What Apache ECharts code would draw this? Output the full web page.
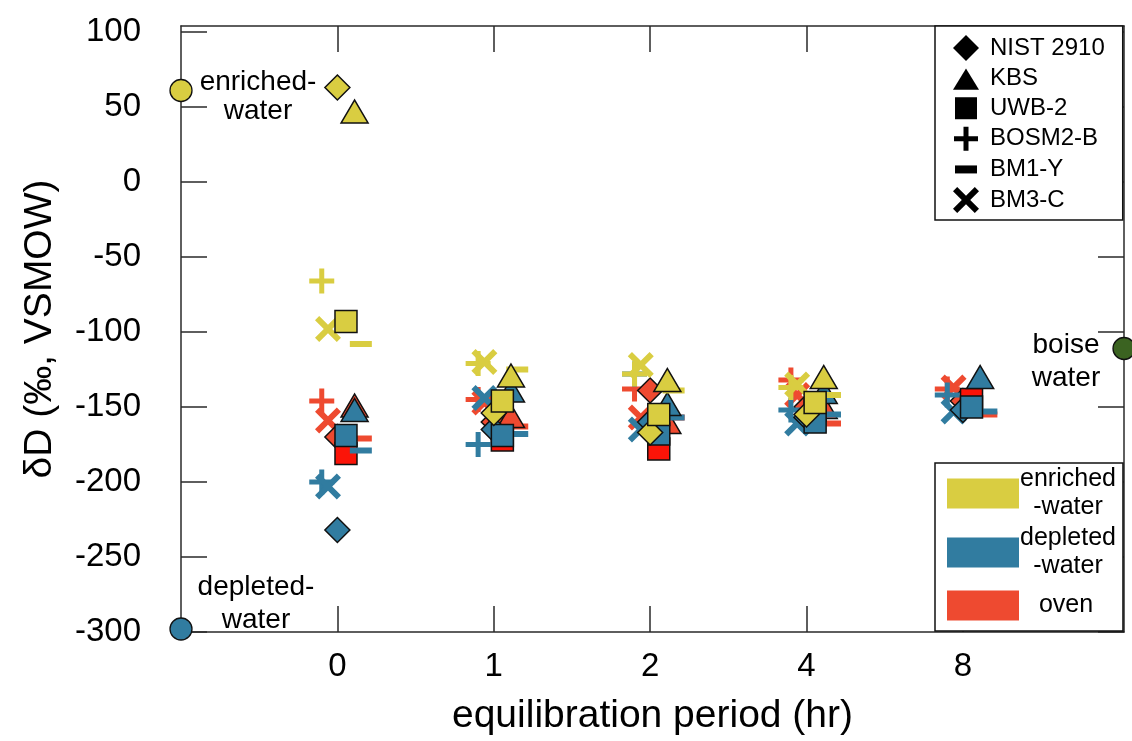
<!DOCTYPE html>
<html><head><meta charset="utf-8">
<script src="https://cdn.jsdelivr.net/npm/echarts@6/dist/echarts.min.js"></script>
<style>html,body{margin:0;padding:0;background:#fff}#c{width:1132px;height:741px}</style>
</head><body><div id="c"></div>
<script>
// ---------- data ----------
const categories = ['0', '1', '2', '4', '8'];           // equilibration period (hr)
const yTickValues = [-300, -250, -200, -150, -100, -50, 0, 50, 100];
const standards = ['NIST 2910', 'KBS', 'UWB-2', 'BOSM2-B', 'BM1-Y', 'BM3-C'];
const treatments = ['enriched-water', 'depleted-water', 'oven'];

// enriched-water treatment
const enrichedNIST2910 = [63, -154, -167, -155, null];
const enrichedKBS      = [47, -129, -132, -130, null];
const enrichedUWB2     = [-93, -146, -155, -147, null];
const enrichedBOSM2B   = [-66, -121, -128, -137, null];
const enrichedBM1Y     = [-108, -125, -139, -142, null];
const enrichedBM3C     = [-98, -120, -122, -135, null];
// depleted-water treatment
const depletedNIST2910 = [-232, -165, -160, -157, -152];
const depletedKBS      = [-152, -139, -148, -140, -130];
const depletedUWB2     = [-169, -169, -168, -160, -150];
const depletedBOSM2B   = [-200, -175, -128, -152, -142];
const depletedBM1Y     = [-179, -168, -157, -155, -153];
const depletedBM3C     = [-203, -144, -165, -161, -153];
// oven treatment
const ovenNIST2910 = [-170, -160, -139, -150, -146];
const ovenKBS      = [-149, -156, -160, -150, null];
const ovenUWB2     = [-181, -172, -178, -152, -145];
const ovenBOSM2B   = [-146, -145, -138, -132, -138];
const ovenBM1Y     = [-171, -163, -157, -161, -155];
const ovenBM3C     = [-159, -147, -157, -142, -137];

// reference waters (δD)
const enrichedWaterRef = 61;
const depletedWaterRef = -298;
const boiseWaterRef = -111;

// ---------- styling ----------
const X_MIN = -1, X_MAX = 5.03;
const FONT = "'Liberation Sans', Arial, Helvetica, sans-serif";
const COLORS = {'enriched-water': '#d9cd41', 'depleted-water': '#317ca0', 'oven': '#ee4a30'};
const SQUARE_RED = '#fb1408';
const PLUS = 'path://M10,0H15V10H25V15H15V25H10V15H0V10H10Z';
const d = 4.2;
const CROSS = `path://M0,${d}L${d},0L13,${13-d}L${26-d},0L26,${d}L${13+d},13L26,${26-d}L${26-d},26L13,${13+d}L${d},26L0,${26-d}L${13-d},13Z`;
const SHAPES = {
  'NIST 2910': {symbol: 'diamond', size: 25, border: true, off: 0},
  'KBS':       {symbol: 'triangle', size: [27, 23], border: true, off: 0.11},
  'UWB-2':     {symbol: 'rect', size: 22, border: true, off: 0.055},
  'BOSM2-B':   {symbol: PLUS, size: 25, border: false, off: -0.1},
  'BM1-Y':     {symbol: 'rect', size: [22, 6], border: false, off: 0.15},
  'BM3-C':     {symbol: CROSS, size: 26, border: false, off: -0.06}
};
const LEGEND_ICONS = {
  'NIST 2910': 'diamond',
  'KBS': 'path://M0,0M26,26M13,3L26.5,25H-0.5Z',
  'UWB-2': 'path://M0,0M26,26M2,2H24V24H2Z',
  'BOSM2-B': 'path://M0,0M26,26M10.5,1H15.5V10.5H25V15.5H15.5V25H10.5V15.5H1V10.5H10.5Z',
  'BM1-Y': 'path://M0,0M26,26M2,9H24V17H2Z',
  'BM3-C': CROSS
};
const DATA = {
  'enriched-water': [enrichedNIST2910, enrichedKBS, enrichedUWB2, enrichedBOSM2B, enrichedBM1Y, enrichedBM3C],
  'depleted-water': [depletedNIST2910, depletedKBS, depletedUWB2, depletedBOSM2B, depletedBM1Y, depletedBM3C],
  'oven':           [ovenNIST2910, ovenKBS, ovenUWB2, ovenBOSM2B, ovenBM1Y, ovenBM3C]
};
// draw order: line-type markers first, then filled shapes; oven, depleted, enriched
const DRAW_ORDER = ['BOSM2-B', 'BM3-C', 'BM1-Y', 'NIST 2910', 'KBS', 'UWB-2'];
const TREAT_ORDER = ['oven', 'depleted-water', 'enriched-water'];

const series = [];
TREAT_ORDER.forEach(t => {
  DRAW_ORDER.forEach(s => {
    const vals = DATA[t][standards.indexOf(s)];
    const sh = SHAPES[s];
    let color = COLORS[t];
    if (t === 'oven' && s === 'UWB-2') color = SQUARE_RED;
    series.push({
      type: 'scatter', name: t + ' ' + s, silent: true, clip: false,
      symbol: sh.symbol, symbolSize: sh.size,
      itemStyle: sh.border ? {color, borderColor: '#111', borderWidth: 1.5, opacity: 1} : {color, opacity: 1},
      data: vals.map((v, i) => v == null ? null : [i + sh.off, v]).filter(p => p)
    });
  });
});

const refLabel = (text, off, lh) => ({
  show: true, formatter: text, position: 'inside', offset: off, align: 'center',
  verticalAlign: 'middle', fontSize: 28, lineHeight: lh, color: '#000', fontFamily: FONT
});
const refSeries = (name, x, y, color, label) => ({
  type: 'scatter', name, silent: true, clip: false, symbol: 'circle', symbolSize: 22, z: 5,
  itemStyle: {color, borderColor: '#111', borderWidth: 1.3, opacity: 1},
  label, data: [[x, y]]
});
series.push(refSeries('enriched ref', X_MIN, enrichedWaterRef, COLORS['enriched-water'], refLabel('enriched-\nwater', [77, 6], 29)));
series.push(refSeries('depleted ref', X_MIN, depletedWaterRef, COLORS['depleted-water'], refLabel('depleted-\nwater', [75, -25], 33)));
series.push(refSeries('boise ref', X_MAX, boiseWaterRef, '#3b6321', refLabel('boise\nwater', [-58, 13], 33)));

// legend-only series
standards.forEach(s => series.push({type: 'scatter', name: s, data: [], itemStyle: {color: '#000', opacity: 1}}));
treatments.forEach(t => series.push({type: 'scatter', name: t, data: [], itemStyle: {color: COLORS[t], opacity: 1}}));

const axisLine = {show: true, onZero: false, lineStyle: {color: '#2a2a2a', width: 1.5}};
const tickStyle = {color: '#2a2a2a', width: 1.5};
const xTicks = categories.map((c, i) => i);

const option = {
  animation: false,
  backgroundColor: '#fff',
  textStyle: {fontFamily: FONT},
  grid: {left: 181, right: 8, top: 26, bottom: 106, show: false},
  xAxis: [
    {type: 'value', min: X_MIN, max: X_MAX, position: 'bottom', axisLine,
     axisTick: {show: true, inside: true, length: 26, customValues: xTicks, lineStyle: tickStyle},
     axisLabel: {customValues: xTicks, formatter: v => categories[Math.round(v)], fontSize: 33, color: '#000', margin: 18, fontFamily: FONT},
     splitLine: {show: false},
     name: 'equilibration period (hr)', nameLocation: 'middle', nameGap: 65, nameMoveOverlap: false,
     nameTextStyle: {fontSize: 39, color: '#000', fontFamily: FONT}},
    {type: 'value', min: X_MIN, max: X_MAX, position: 'top', axisLine,
     axisTick: {show: true, inside: true, length: 26, customValues: xTicks, lineStyle: tickStyle},
     axisLabel: {show: false}, splitLine: {show: false}}
  ],
  yAxis: [
    {type: 'value', min: -300, max: 104, position: 'left', axisLine,
     axisTick: {show: true, inside: true, length: 26, customValues: yTickValues, lineStyle: tickStyle},
     axisLabel: {customValues: yTickValues, fontSize: 33, color: '#000', margin: 40, fontFamily: FONT},
     splitLine: {show: false},
     name: 'δD (‰, VSMOW)', nameLocation: 'middle', nameGap: 121, nameRotate: 90, nameMoveOverlap: false,
     nameTextStyle: {fontSize: 39, color: '#000', fontFamily: FONT}},
    {type: 'value', min: -300, max: 104, position: 'right', axisLine,
     axisTick: {show: true, inside: true, length: 26, customValues: yTickValues, lineStyle: tickStyle},
     axisLabel: {show: false}, splitLine: {show: false}}
  ],
  legend: [
    {orient: 'vertical', left: 935, top: 26, padding: [9, 18, 7, 18],
     borderColor: '#111', borderWidth: 1.5, backgroundColor: '#fff',
     itemWidth: 26, itemHeight: 26, itemGap: 4.6, selectedMode: false,
     textStyle: {fontSize: 24, color: '#000', padding: [0, 0, 0, 6], fontFamily: FONT},
     data: standards.map(name => ({name, icon: LEGEND_ICONS[name], itemStyle: {color: '#000', borderWidth: 0, opacity: 1}}))},
    {orient: 'vertical', left: 935, top: 463, padding: [4, 7, 5, 12],
     borderColor: '#111', borderWidth: 1.5, backgroundColor: '#fff',
     itemWidth: 72, itemHeight: 30, itemGap: 6, selectedMode: false, icon: 'rect',
     data: treatments.map(name => ({name, itemStyle: {color: COLORS[name], opacity: 1}})),
     formatter: n => n === 'oven' ? '{o|oven}' : '{t|' + n.split('-')[0] + '}\n{t|-water}',
     textStyle: {fontFamily: FONT, color: '#000',
       rich: {t: {fontSize: 25, lineHeight: 28, width: 88, align: 'center', fontFamily: FONT, color: '#000'},
              o: {fontSize: 25, lineHeight: 25, padding: [8, 0, 8, 0], width: 84, align: 'center', fontFamily: FONT, color: '#000'}}}}
  ],
  series
};
const chart = echarts.init(document.getElementById('c'), null, {renderer: 'canvas'});
chart.setOption(option);
</script>
</body></html>
